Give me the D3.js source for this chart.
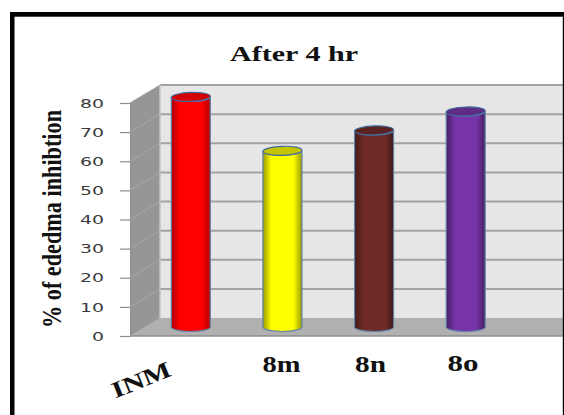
<!DOCTYPE html>
<html>
<head>
<meta charset="utf-8">
<script src="https://cdn.jsdelivr.net/npm/d3@7/dist/d3.min.js"></script>
<style>
html,body{margin:0;padding:0;background:#fff;}
svg{display:block;}
text{font-family:"Liberation Serif",serif;font-weight:bold;fill:#111;}
</style>
</head>
<body>
<script>
// Oedema inhibition after 4 hours, one cylinder per compound
const categories = ["INM", "8m", "8n", "8o"];
const inhibition = [79, 60.5, 67.5, 74];
const barTopColors = ["#d40000", "#c4c400", "#5a2320", "#5f2c85"];
const barEdgeColors = ["#b00000", "#9a9a00", "#3f1a18", "#46205f"];
const barMidColors = ["#ff0000", "#ffff00", "#6e2a26", "#7733a8"];
const yTicks = [0, 10, 20, 30, 40, 50, 60, 70, 80];
const chartTitle = "After 4 hr";
const yTitle = "% of ededma inhibtion";

const width = 564, height = 415;
const svg = d3.select("body").append("svg").attr("width", width).attr("height", height);

// 3D box: a front plane and a back plane offset up and to the right
const frontX = 130, backX = 160, rightX = 563;
const depthY = 18;
const yFront = d3.scaleLinear().domain([0, 80]).range([336, 103]);
const yBack = v => yFront(v) - depthY;
const yBar = v => yFront(v) - 9;

const x = d3.scaleBand().domain(categories).range([145, 511.5]).padding(0);
const barWidth = 39;

const defs = svg.append("defs");
categories.forEach((c, i) => {
  const g = defs.append("linearGradient").attr("id", "cyl" + i);
  g.append("stop").attr("offset", "0%").attr("stop-color", barEdgeColors[i]);
  g.append("stop").attr("offset", "22%").attr("stop-color", barMidColors[i]);
  g.append("stop").attr("offset", "78%").attr("stop-color", barMidColors[i]);
  g.append("stop").attr("offset", "100%").attr("stop-color", barEdgeColors[i]);
});

// Frame
svg.append("rect").attr("x", 10).attr("y", 12).attr("width", width - 10).attr("height", 4.7).attr("fill", "#000");
svg.append("rect").attr("x", 10).attr("y", 12).attr("width", 4.5).attr("height", height - 12).attr("fill", "#000");

// Walls and floor
const polygon = (pts, fill) => svg.append("polygon").attr("points", pts.map(p => p.join(",")).join(" ")).attr("fill", fill);
polygon([[backX, yBack(80)], [rightX, yBack(80)], [rightX, yBack(0)], [backX, yBack(0)]], "#e6e6e6");
polygon([[frontX, yFront(80)], [backX, yBack(80)], [backX, yBack(0)], [frontX, yFront(0)]], "#969696");
polygon([[frontX, yFront(0)], [backX, yBack(0)], [rightX, yBack(0)], [rightX, yFront(0)]], "#b0b0b0");

// Gridlines run along the back wall and fold down the side wall
yTicks.forEach(t => {
  svg.append("line")
    .attr("x1", frontX).attr("x2", backX).attr("y1", yFront(t)).attr("y2", yBack(t))
    .attr("stroke", "#a8a8a8").attr("stroke-width", 1);
  if (t > 0) {
    svg.append("line")
      .attr("x1", backX).attr("x2", rightX).attr("y1", yBack(t)).attr("y2", yBack(t))
      .attr("stroke", "#a3a3a3").attr("stroke-width", 2);
  }
});
svg.append("line").attr("x1", frontX).attr("x2", rightX).attr("y1", yFront(0)).attr("y2", yFront(0)).attr("stroke", "#8e8e8e").attr("stroke-width", 1.5);
svg.append("line").attr("x1", backX).attr("x2", backX).attr("y1", yBack(80)).attr("y2", yBack(0)).attr("stroke", "#c4c4c4").attr("stroke-width", 1.5);

// Value axis on the front plane, with wide numerals
const axis = d3.axisLeft(yFront).tickValues(yTicks).tickSize(10).tickPadding(16);
const axisG = svg.append("g").attr("transform", `translate(${frontX},0)`).call(axis);
axisG.select(".domain").attr("stroke", "#8e8e8e");
axisG.selectAll(".tick line").attr("stroke", "#8e8e8e").attr("stroke-width", 1.2);
axisG.selectAll(".tick text")
  .attr("textLength", t => String(t).length * 12)
  .attr("lengthAdjust", "spacingAndGlyphs")
  .style("font-family", "'DejaVu Sans',sans-serif")
  .style("font-weight", "normal")
  .style("font-size", "13px")
  .style("fill", "#3a3a3a");

// Cylinders
const ry = 4.5, tilt = -2;
const bars = svg.append("g").selectAll("g").data(categories).join("g")
  .attr("transform", c => `translate(${x(c) + x.bandwidth() / 2},0)`);
const bodyPath = i => {
  const top = yBar(inhibition[i]), base = yBar(0), r = barWidth / 2;
  return `M${-r},${top}L${-r},${base}A${r},${ry} 0 0 0 ${r},${base}L${r},${top}A${r},${ry} 0 0 1 ${-r},${top}Z`;
};
bars.append("path")
  .attr("d", (c, i) => bodyPath(i))
  .attr("fill", (c, i) => `url(#cyl${i})`)
  .attr("stroke", "#5f83ad")
  .attr("stroke-width", 1.2);
bars.append("ellipse")
  .attr("cx", 0)
  .attr("cy", (c, i) => yBar(inhibition[i]))
  .attr("rx", barWidth / 2)
  .attr("ry", ry)
  .attr("transform", (c, i) => `rotate(${tilt} 0 ${yBar(inhibition[i])})`)
  .attr("fill", (c, i) => barTopColors[i])
  .attr("stroke", "#3f6a9e")
  .attr("stroke-width", 1.2);

// Category labels; the first one is slanted
const labelX = [144, 281.5, 370.5, 463];
const labelY = [387, 372, 372, 371];
const labelLength = [62, 38, 31, 31];
svg.append("g").selectAll("text").data(categories).join("text")
  .attr("text-anchor", "middle")
  .attr("font-size", 23)
  .attr("textLength", (c, i) => labelLength[i])
  .attr("lengthAdjust", "spacingAndGlyphs")
  .attr("transform", (c, i) => `translate(${labelX[i]},${labelY[i]})` + (i === 0 ? " rotate(-22)" : ""))
  .text(c => c);

// Chart title
svg.append("text").attr("x", 294).attr("y", 61).attr("text-anchor", "middle")
  .attr("font-size", 21)
  .attr("textLength", 128)
  .attr("lengthAdjust", "spacingAndGlyphs")
  .text(chartTitle);

// Vertical axis title, condensed to fit the height of the axis
svg.append("text")
  .attr("transform", "translate(61,219) rotate(-90)")
  .attr("text-anchor", "middle")
  .attr("font-size", 27)
  .attr("textLength", 218)
  .attr("lengthAdjust", "spacingAndGlyphs")
  .text(yTitle);

// Thin right edge of the frame
svg.append("rect").attr("x", 562.8).attr("y", 12).attr("width", 1.2).attr("height", height - 12).attr("fill", "#000");
</script>
</body>
</html>
